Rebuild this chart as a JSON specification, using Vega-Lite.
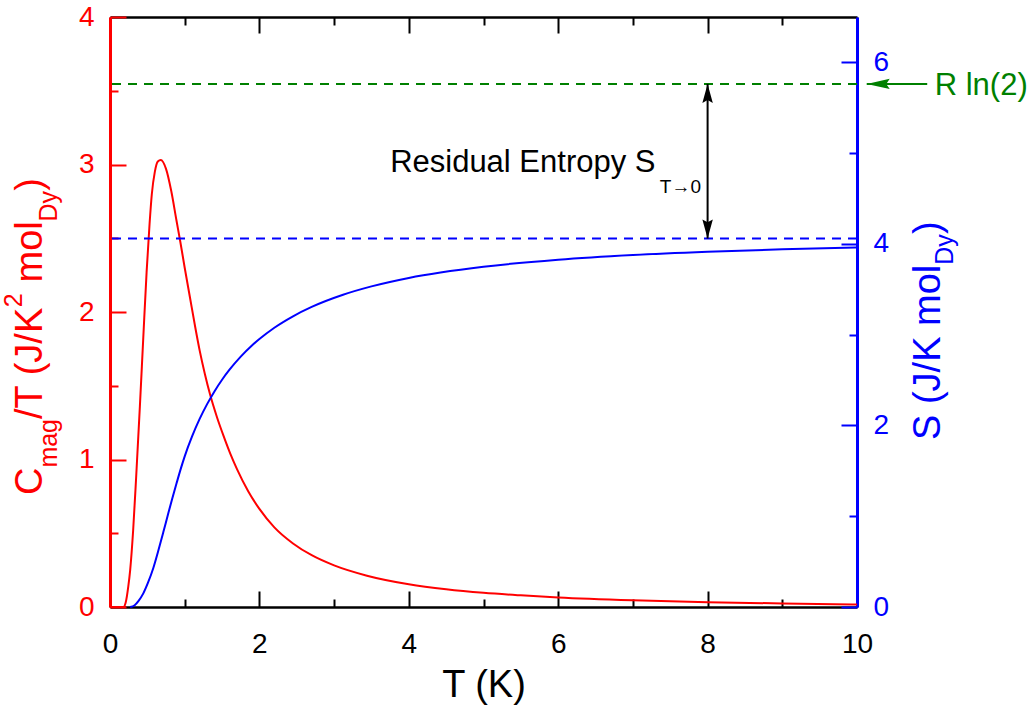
{
"$schema":"https://vega.github.io/schema/vega-lite/v6.json",
"width":747,"height":590,
"autosize":{"type":"none"},
"padding":{"left":110,"top":17,"right":174,"bottom":100},
"background":"white",
"config":{"view":{"stroke":null},"font":"Liberation Sans","axis":{"grid":false,"labelFont":"Liberation Sans","titleFont":"Liberation Sans"}},
"datasets":{
 "cmag":[{"T":0,"C":0},{"T":0.1,"C":0},{"T":0.18,"C":0},{"T":0.21,"C":0.03},{"T":0.245,"C":0.14},{"T":0.27,"C":0.25},{"T":0.31,"C":0.52},{"T":0.35,"C":0.88},{"T":0.4,"C":1.36},{"T":0.446,"C":1.83},{"T":0.49,"C":2.27},{"T":0.53,"C":2.6},{"T":0.56,"C":2.8},{"T":0.6,"C":2.95},{"T":0.64,"C":3.02},{"T":0.68,"C":3.03},{"T":0.75,"C":2.97},{"T":0.82,"C":2.82},{"T":0.89,"C":2.62},{"T":0.94,"C":2.48},{"T":1.0,"C":2.3},{"T":1.07,"C":2.1},{"T":1.14,"C":1.9},{"T":1.2,"C":1.74},{"T":1.27,"C":1.58},{"T":1.34,"C":1.44},{"T":1.43,"C":1.29},{"T":1.52,"C":1.16},{"T":1.61,"C":1.04},{"T":1.7,"C":0.935},{"T":1.85,"C":0.785},{"T":2.0,"C":0.665},{"T":2.2,"C":0.54},{"T":2.45,"C":0.431},{"T":2.7,"C":0.351},{"T":3.0,"C":0.282},{"T":3.44,"C":0.212},{"T":4.0,"C":0.154},{"T":4.5,"C":0.12},{"T":5.0,"C":0.096},{"T":5.5,"C":0.079},{"T":6.0,"C":0.065},{"T":7.0,"C":0.046},{"T":8.0,"C":0.033},{"T":9.0,"C":0.024},{"T":10.0,"C":0.017}],
 "entropy":[{"T":0.27,"S":0},{"T":0.33,"S":0.02},{"T":0.38,"S":0.065},{"T":0.446,"S":0.15},{"T":0.51,"S":0.27},{"T":0.58,"S":0.43},{"T":0.65,"S":0.63},{"T":0.714,"S":0.825},{"T":0.77,"S":1.0},{"T":0.83,"S":1.185},{"T":0.89,"S":1.36},{"T":0.95,"S":1.53},{"T":1.0,"S":1.66},{"T":1.1,"S":1.882},{"T":1.2,"S":2.072},{"T":1.3,"S":2.235},{"T":1.4,"S":2.378},{"T":1.5,"S":2.504},{"T":1.6,"S":2.614},{"T":1.75,"S":2.758},{"T":1.9,"S":2.881},{"T":2.0,"S":2.952},{"T":2.2,"S":3.077},{"T":2.45,"S":3.203},{"T":2.7,"S":3.306},{"T":3.12,"S":3.44},{"T":3.5,"S":3.532},{"T":4.0,"S":3.625},{"T":5.0,"S":3.748},{"T":6.0,"S":3.826},{"T":7.0,"S":3.878},{"T":8.0,"S":3.914},{"T":9.0,"S":3.941},{"T":10.0,"S":3.961}],
 "levels":[{"name":"R ln(2)","S":5.763},{"name":"S(T->0)","S":4.06}],
 "arrowV":[{"T":8,"S1":4.06,"S2":5.763}],
 "heads":[{"T":8,"S":5.763,"d":"up"},{"T":8,"S":4.06,"d":"down"}],
 "arrowG":[{"T1":10.13,"T2":10.94,"S":5.763}],
 "ltitle":[{"T":-0.91,"v":0.759,"t":"C","k":"m"},{"T":-0.71,"v":0.945,"t":"mag","k":"s"},{"T":-0.91,"v":1.275,"t":"/T (J/K","k":"m"},{"T":-1.18,"v":2.033,"t":"2","k":"s"},{"T":-0.91,"v":2.2,"t":"mol","k":"m"},{"T":-0.71,"v":2.614,"t":"Dy","k":"s"},{"T":-0.91,"v":2.822,"t":")","k":"m"}],
 "rtitle":[{"T":11.11,"s":1.84,"t":"S (J/K mol","k":"m"},{"T":11.29,"s":3.771,"t":"Dy","k":"s"},{"T":11.11,"s":4.108,"t":")","k":"m"}],
 "notes":[{"T":3.75,"s":4.79,"t":"Residual Entropy S","k":"m"},{"T":7.36,"s":4.56,"t":"T→0","k":"s"},{"T":11.04,"s":5.64,"t":"R ln(2)","k":"g"}]
},
"layer":[
 {"layer":[
  {"data":{"name":"cmag"},
   "mark":{"type":"line","color":"#ff0000","strokeWidth":2,"interpolate":"monotone"},
   "encoding":{
    "x":{"field":"T","type":"quantitative","scale":{"domain":[0,10],"nice":false,"zero":false},
     "axis":{"orient":"bottom","title":"T (K)","titleFontSize":38,"titleFontWeight":"normal","titleColor":"#000000","titleBaseline":"alphabetic","titleY":89,
      "values":[0,2,4,6,8,10],
      "labelFontSize":28,"labelColor":"#000000","labelBaseline":"alphabetic","labelPadding":61,"labelFlush":false,"labelOverlap":false,
      "domainColor":"#000000","domainWidth":2.5,"tickColor":"#000000","tickWidth":2,"tickSize":-16,"grid":false}},
    "y":{"field":"C","type":"quantitative","scale":{"domain":[0,4],"nice":false,"zero":false},
     "axis":{"orient":"left","title":null,
      "values":[0,1,2,3,4],
      "labelFontSize":28,"labelColor":"#ff0000","labelPadding":32,"labelFlush":false,"labelOverlap":false,
      "domainColor":"#ff0000","domainWidth":3,"tickColor":"#ff0000","tickWidth":2,"tickSize":-16,"grid":false}}}},
  {"data":{"name":"ltitle"},"transform":[{"filter":"datum.k === 'm'"}],
   "mark":{"type":"text","color":"#ff0000","fontSize":38,"angle":270,"align":"left","baseline":"alphabetic","font":"Liberation Sans"},
   "encoding":{
    "x":{"field":"T","type":"quantitative",
     "axis":{"orient":"bottom","title":null,"labels":false,"domain":false,"values":[1,3,5,7,9],"tickColor":"#000000","tickWidth":2,"tickSize":-8,"grid":false}},
    "y":{"field":"v","type":"quantitative",
     "axis":{"orient":"left","title":null,"labels":false,"domain":false,"values":[0.5,1.5,2.5,3.5],"tickColor":"#ff0000","tickWidth":2,"tickSize":-8,"grid":false}},
    "text":{"field":"t"}}},
  {"data":{"name":"ltitle"},"transform":[{"filter":"datum.k === 's'"}],
   "mark":{"type":"text","color":"#ff0000","fontSize":25,"angle":270,"align":"left","baseline":"alphabetic","font":"Liberation Sans"},
   "encoding":{"x":{"field":"T","type":"quantitative","axis":null},"y":{"field":"v","type":"quantitative","axis":null},"text":{"field":"t"}}}
 ],
 "resolve":{"axis":{"x":"independent","y":"independent"}}},
 {"layer":[
  {"data":{"name":"levels"},
   "mark":{"type":"rule","strokeWidth":2,"strokeDash":[9,7]},
   "encoding":{"y":{"field":"S","type":"quantitative","axis":null},
    "color":{"field":"name","type":"nominal","scale":{"domain":["R ln(2)","S(T->0)"],"range":["#008000","#0000ff"]},"legend":null}}},
  {"data":{"name":"arrowV"},
   "mark":{"type":"rule","strokeWidth":2,"color":"#000000"},
   "encoding":{"x":{"field":"T","type":"quantitative","axis":null},"y":{"field":"S1","type":"quantitative","axis":null},"y2":{"field":"S2"}}},
  {"data":{"name":"heads"},
   "mark":{"type":"point","filled":true,"opacity":1,"size":361,"color":"#000000","strokeWidth":0},
   "encoding":{"x":{"field":"T","type":"quantitative","axis":null},"y":{"field":"S","type":"quantitative","axis":null},
    "shape":{"field":"d","type":"nominal","scale":{"domain":["up","down"],"range":["M0,0 L0.55,2 L0,1.7 L-0.55,2 Z","M0,0 L0.55,-2 L0,-1.7 L-0.55,-2 Z"]},"legend":null}}},
  {"data":{"name":"arrowG"},
   "mark":{"type":"rule","strokeWidth":2,"color":"#008000"},
   "encoding":{"x":{"field":"T1","type":"quantitative","axis":null},"x2":{"field":"T2"},"y":{"field":"S","type":"quantitative","axis":null}}},
  {"data":{"name":"arrowG"},
   "mark":{"type":"point","filled":true,"opacity":1,"size":529,"color":"#008000","strokeWidth":0,"shape":"M0,0 L2,-0.45 L1.7,0 L2,0.45 Z"},
   "encoding":{"x":{"field":"T1","type":"quantitative","axis":null},"y":{"field":"S","type":"quantitative","axis":null}}},
  {"data":{"name":"entropy"},
   "mark":{"type":"line","color":"#0000ff","strokeWidth":2,"interpolate":"monotone"},
   "encoding":{
    "x":{"field":"T","type":"quantitative",
     "axis":{"orient":"top","title":null,"labels":false,"values":[0,2,4,6,8,10],
      "domainColor":"#000000","domainWidth":2.5,"tickColor":"#000000","tickWidth":2,"tickSize":-16,"grid":false}},
    "y":{"field":"S","type":"quantitative","scale":{"domain":[0,6.5],"nice":false,"zero":false},
     "axis":{"orient":"right","title":null,"values":[0,2,4,6],
      "labelFontSize":28,"labelColor":"#0000ff","labelPadding":32,"labelFlush":false,"labelOverlap":false,
      "domainColor":"#0000ff","domainWidth":3,"tickColor":"#0000ff","tickWidth":2,"tickSize":-16,"grid":false}}}},
  {"data":{"name":"rtitle"},"transform":[{"filter":"datum.k === 'm'"}],
   "mark":{"type":"text","color":"#0000ff","fontSize":38,"angle":270,"align":"left","baseline":"alphabetic","font":"Liberation Sans"},
   "encoding":{
    "x":{"field":"T","type":"quantitative",
     "axis":{"orient":"top","title":null,"labels":false,"domain":false,"values":[1,3,5,7,9],"tickColor":"#000000","tickWidth":2,"tickSize":-8,"grid":false}},
    "y":{"field":"s","type":"quantitative",
     "axis":{"orient":"right","title":null,"labels":false,"domain":false,"values":[1,3,5],"tickColor":"#0000ff","tickWidth":2,"tickSize":-8,"grid":false}},
    "text":{"field":"t"}}},
  {"data":{"name":"rtitle"},"transform":[{"filter":"datum.k === 's'"}],
   "mark":{"type":"text","color":"#0000ff","fontSize":25,"angle":270,"align":"left","baseline":"alphabetic","font":"Liberation Sans"},
   "encoding":{"x":{"field":"T","type":"quantitative","axis":null},"y":{"field":"s","type":"quantitative","axis":null},"text":{"field":"t"}}},
  {"data":{"name":"notes"},"transform":[{"filter":"datum.k === 'm'"}],
   "mark":{"type":"text","color":"#000000","fontSize":31,"align":"left","baseline":"alphabetic","font":"Liberation Sans"},
   "encoding":{"x":{"field":"T","type":"quantitative","axis":null},"y":{"field":"s","type":"quantitative","axis":null},"text":{"field":"t"}}},
  {"data":{"name":"notes"},"transform":[{"filter":"datum.k === 's'"}],
   "mark":{"type":"text","color":"#000000","fontSize":19,"align":"left","baseline":"alphabetic","font":"Liberation Sans"},
   "encoding":{"x":{"field":"T","type":"quantitative","axis":null},"y":{"field":"s","type":"quantitative","axis":null},"text":{"field":"t"}}},
  {"data":{"name":"notes"},"transform":[{"filter":"datum.k === 'g'"}],
   "mark":{"type":"text","color":"#008000","fontSize":31,"align":"left","baseline":"alphabetic","font":"Liberation Sans"},
   "encoding":{"x":{"field":"T","type":"quantitative","axis":null},"y":{"field":"s","type":"quantitative","axis":null},"text":{"field":"t"}}}
 ],
 "resolve":{"axis":{"x":"independent","y":"independent"}}}
],
"resolve":{"scale":{"y":"independent"},"axis":{"x":"independent","y":"independent"}}
}
